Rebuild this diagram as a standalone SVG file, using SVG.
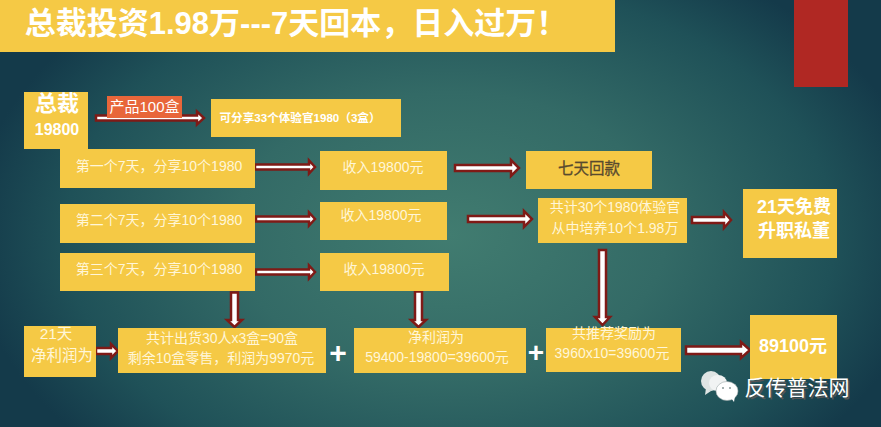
<svg xmlns="http://www.w3.org/2000/svg" width="881" height="427" viewBox="0 0 881 427">
<style>
.b{fill:#f5c945}
text{font-family:"Liberation Sans","Noto Sans CJK SC",sans-serif;fill:#fff;text-anchor:middle}
.t{font-size:14px;fill:#fff6d8}
.t2{font-size:15.500px;fill:#fff6d8}
.bd{font-weight:bold}
.a{fill:#fff;stroke:#7f1a16;stroke-width:2.500}
</style>
<defs>
<radialGradient id="bg" gradientUnits="userSpaceOnUse" cx="450" cy="235" r="480" gradientTransform="translate(0 80) scale(1 .66)">
<stop offset="0" stop-color="#417c70"/><stop offset=".45" stop-color="#336a66"/><stop offset=".8" stop-color="#1f5158"/><stop offset="1" stop-color="#143a4a"/>
</radialGradient>
</defs>
<rect width="881" height="427" fill="url(#bg)"/>
<g id="title"><rect class="b" width="615" height="52"/><text x="296" y="34" font-size="31" font-weight="bold">总裁投资1.98万---7天回本，日入过万！</text></g>
<g id="tab"><rect x="794" y="0" width="54" height="87" fill="#b02823"/></g>
<g id="connectors">
<path class="a" d="M96 115.500H197V111.500L204 118 197 124.500V120.500H96Z"/>
<path class="a" d="M255 164.500H309V160.500L315 167 309 173.500V169.500H255Z"/>
<path class="a" d="M256 216.500H309V212.500L315 219 309 225.500V221.500H256Z"/>
<path class="a" d="M256 269.500H309V265.500L315 272 309 278.500V274.500H256Z"/>
<path class="a" d="M455 165H511V160L519 168 511 176V171H455Z"/>
<path class="a" d="M468 216H524V211L532 219 524 227V222H468Z"/>
<path class="a" d="M692 217H724V212L731 220 724 228V223H692Z"/>
<path class="a" d="M231 292.500H238V320H242L234.500 327 227 320H231Z"/>
<path class="a" d="M415 291.500H422V320H426L418.500 327 411 320H415Z"/>
<path class="a" d="M599 250H606V317H610L602.500 325 595 317H599Z"/>
<path class="a" d="M96 348H111V344L118 351 111 358V354H96Z"/>
<path class="a" d="M686 346.500H741V342L750 350 741 358V354H686Z"/>
</g>
<g id="boss"><rect class="b" x="24" y="92" width="64" height="57"/><text x="57" y="111" font-size="22" class="bd">总裁</text><text x="57" y="135" font-size="16" class="bd">19800</text></g>
<g id="product"><rect x="107" y="96" width="75" height="22" fill="#e8663a"/><text x="144.500" y="112" font-size="15">产品100盒</text></g>
<g id="share33"><rect class="b" x="211" y="99" width="190" height="38"/><text x="300" y="122" font-size="11.600" class="bd">可分享33个体验官1980（3盒）</text></g>
<g id="week1"><rect class="b" x="60" y="149" width="195" height="39"/><text class="t" x="159" y="171">第一个7天，分享10个1980</text></g>
<g id="week2"><rect class="b" x="60" y="204" width="195" height="39"/><text class="t" x="159" y="225">第二个7天，分享10个1980</text></g>
<g id="week3"><rect class="b" x="60" y="253" width="195" height="38"/><text class="t" x="159" y="274">第三个7天，分享10个1980</text></g>
<g id="income1"><rect class="b" x="320" y="151" width="127" height="39"/><text class="t" x="383" y="172">收入19800元</text></g>
<g id="income2"><rect class="b" x="320" y="202" width="127" height="38"/><text class="t" x="381" y="220">收入19800元</text></g>
<g id="income3"><rect class="b" x="320" y="253" width="129" height="38"/><text class="t" x="384" y="274">收入19800元</text></g>
<g id="payback"><rect class="b" x="526" y="151" width="126" height="38"/><text x="589" y="174" font-size="15.500" style="fill:#594a2e;stroke:#594a2e;stroke-width:.3">七天回款</text></g>
<g id="total30"><rect class="b" x="538" y="198" width="149" height="45"/><text class="t" x="615" y="212">共计30个1980体验官</text><text class="t" x="615" y="233">从中培养10个1.98万</text></g>
<g id="promo"><rect class="b" x="743" y="189" width="94" height="69"/><text x="794" y="213" font-size="18" class="bd">21天免费</text><text x="794" y="237" font-size="18" class="bd">升职私董</text></g>
<g id="net21"><rect class="b" x="24" y="326" width="72" height="51"/><text class="t2" x="56" y="339">21天</text><text class="t2" x="62" y="361">净利润为</text></g>
<g id="shipped"><rect class="b" x="118" y="328" width="208" height="45"/><text class="t" x="222" y="343">共计出货30人x3盒=90盒</text><text class="t" x="221" y="363">剩余10盒零售，利润为9970元</text></g>
<text x="338" y="363" font-size="30" class="bd" id="plus1">+</text>
<g id="profit"><rect class="b" x="354" y="328" width="172" height="45"/><text class="t" x="436" y="342">净利润为</text><text class="t" x="437" y="362">59400-19800=39600元</text></g>
<text x="536" y="362" font-size="28" class="bd" id="plus2">+</text>
<g id="reward"><rect class="b" x="546" y="328" width="135" height="44"/><text class="t" x="614" y="338">共推荐奖励为</text><text class="t" x="612" y="358">3960x10=39600元</text></g>
<g id="sum"><rect class="b" x="750" y="315" width="87" height="64"/><text x="793" y="352" font-size="18" class="bd">89100元</text></g>
<g id="watermark">
<ellipse cx="711" cy="381" rx="10" ry="10" fill="#dfe5e4"/><path d="M706 388l-1 7 6-4z" fill="#dfe5e4"/>
<ellipse cx="718" cy="383" rx="9" ry="8" fill="#f1f3f3"/>
<ellipse cx="727" cy="391" rx="11" ry="9.500" fill="#fff" stroke="#9aa6a6" stroke-width=".6"/><path d="M731 398l3 4 1-6z" fill="#fff"/>
<circle cx="723" cy="388" r="1" fill="#8a9898"/><circle cx="730" cy="388" r="1" fill="#8a9898"/>
<text x="798.500" y="396.500" font-size="21" style="fill:#555">反传普法网</text><text x="797" y="395" font-size="21">反传普法网</text>
</g>
</svg>
